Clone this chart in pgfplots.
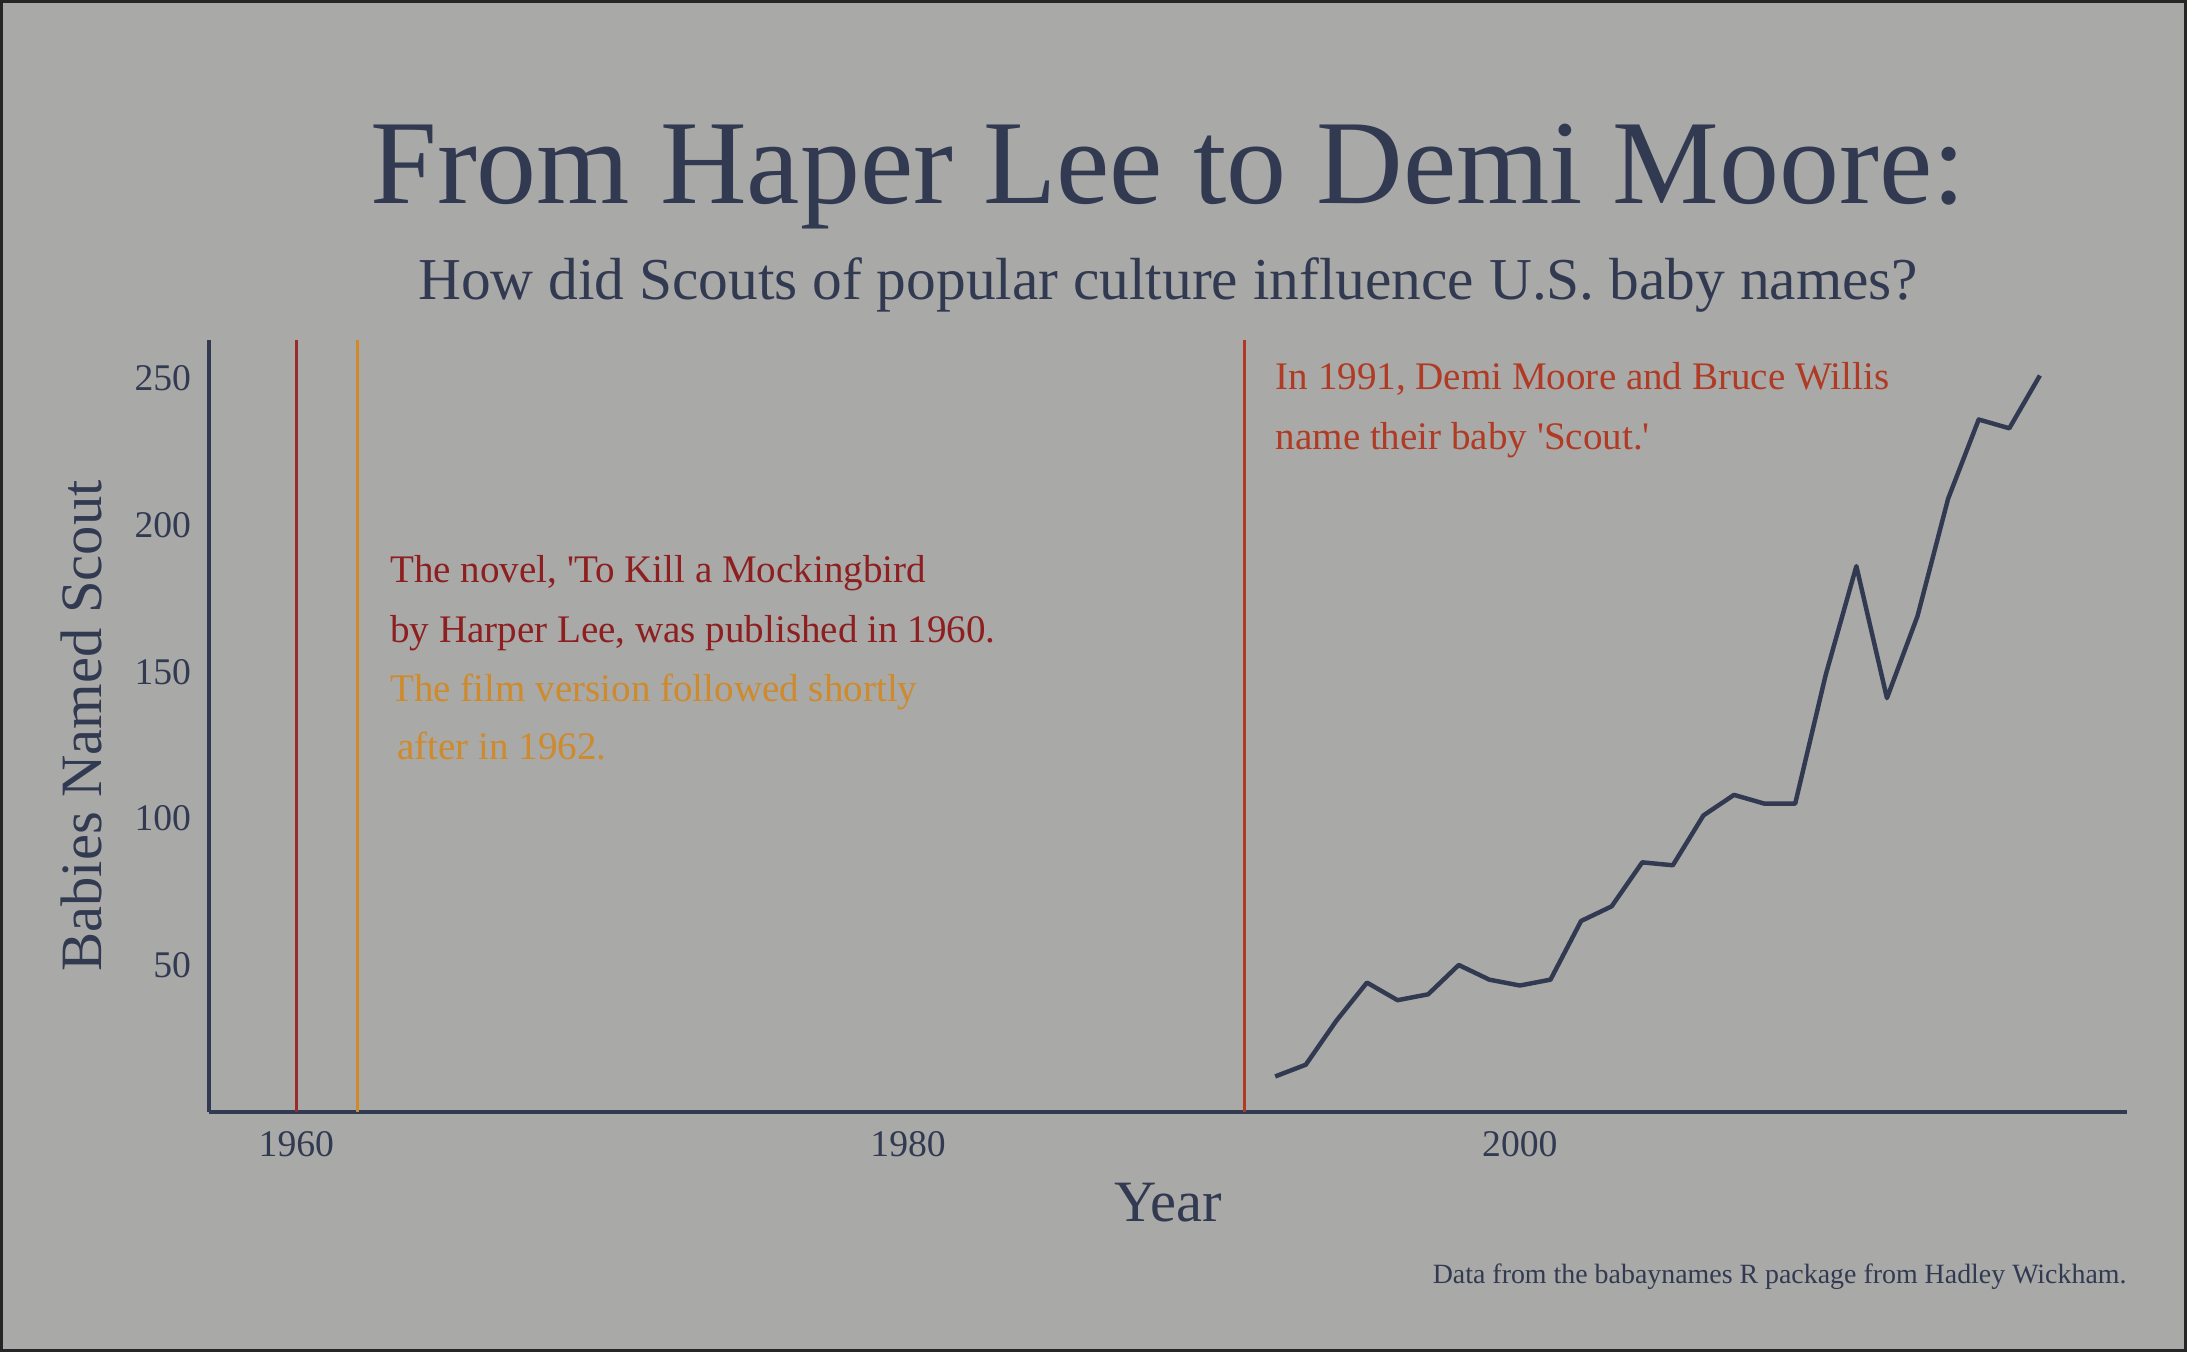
\documentclass[border=0pt]{standalone}
\usepackage{fontspec}
\setmainfont{Liberation Serif}
\usepackage{pgfplots}
\pgfplotsset{compat=1.18}
\definecolor{bg}{HTML}{A9A9A7}
\definecolor{navy}{HTML}{323A52}
\definecolor{dred}{HTML}{8E1F20}
\definecolor{lred}{HTML}{9B2A2A}
\definecolor{orng}{HTML}{CF8A2B}
\definecolor{rred}{HTML}{B03A24}
\begin{document}
\begin{tikzpicture}[x=1pt,y=1pt]
\fill[bg] (0,0) rectangle (784,484.5);
\draw[black!85, line width=1pt] (0.5,0.5) rectangle (783.5,484);
\begin{axis}[
  at={(75pt,86pt)}, anchor=south west,
  scale only axis, width=687.5pt, height=276.5pt,
  xmin=1957.15, xmax=2019.85, ymin=0, ymax=263,
  axis x line*=bottom, axis y line*=left,
  axis line style={navy, line width=1.5pt, -},
  xtick={1960,1980,2000}, ytick={50,100,150,200,250},
  major tick length=0pt,
  /pgf/number format/assume math mode=true,
  /pgf/number format/1000 sep={},
  tick label style={font=\fontsize{13.5}{15}\selectfont, text=navy},
  yticklabel style={xshift=-3pt},
  xticklabel style={yshift=-3.5pt},
  xlabel={Year}, ylabel={Babies Named Scout},
  label style={font=\fontsize{21}{24}\selectfont, text=navy},
  xlabel style={at={(axis description cs:0.5,-0.1429)}, anchor=base},
  ylabel style={at={(axis description cs:-0.056,0.5)}, anchor=base},
  clip=false,
]
\addplot[lred, line width=1.2pt] coordinates {(1960,0) (1960,263)};
\addplot[orng, line width=1.2pt] coordinates {(1962,0) (1962,263)};
\addplot[rred, line width=1.2pt] coordinates {(1991,0) (1991,263)};
\addplot[navy, line width=1.6pt, line join=round] coordinates {
(1992,12) (1993,16) (1994,31) (1995,44) (1996,38) (1997,40) (1998,50) (1999,45)
(2000,43) (2001,45) (2002,65) (2003,70) (2004,85) (2005,84) (2006,101) (2007,108)
(2008,105) (2009,105) (2010,149) (2011,186) (2012,141) (2013,169) (2014,209)
(2015,236) (2016,233) (2017,251)};
\node[anchor=base west, text=dred, font=\fontsize{14}{16}\selectfont, inner sep=0pt] at (axis cs:1963.05,180.5) {The novel, \textquotesingle To Kill a Mockingbird};
\node[anchor=base west, text=dred, font=\fontsize{14}{16}\selectfont, inner sep=0pt] at (axis cs:1963.05,160) {by Harper Lee, was published in 1960.};
\node[anchor=base west, text=orng, font=\fontsize{14}{16}\selectfont, inner sep=0pt] at (axis cs:1963.05,140) {The film version followed shortly};
\node[anchor=base west, text=orng, font=\fontsize{14}{16}\selectfont, inner sep=0pt] at (axis cs:1963.05,120) {\hspace{2.5pt}after in 1962.};
\node[anchor=base west, text=rred, font=\fontsize{14}{16}\selectfont, inner sep=0pt] at (axis cs:1992,246.2) {In 1991, Demi Moore and Bruce Willis};
\node[anchor=base west, text=rred, font=\fontsize{14}{16}\selectfont, inner sep=0pt] at (axis cs:1992,225.7) {name their baby \textquotesingle Scout.\textquotesingle};
\end{axis}
\node[anchor=base, text=navy, font=\fontsize{43}{48}\selectfont, inner sep=0pt] at (418.75,411.5) {From Haper Lee to Demi Moore:};
\node[anchor=base, text=navy, font=\fontsize{21.3}{24}\selectfont, inner sep=0pt] at (418.75,377) {How did Scouts of popular culture influence U.S. baby names?};
\node[anchor=base east, text=navy, font=\fontsize{10}{12}\selectfont, inner sep=0pt] at (762.5,24.5) {Data from the babaynames R package from Hadley Wickham.};
\end{tikzpicture}
\end{document}
